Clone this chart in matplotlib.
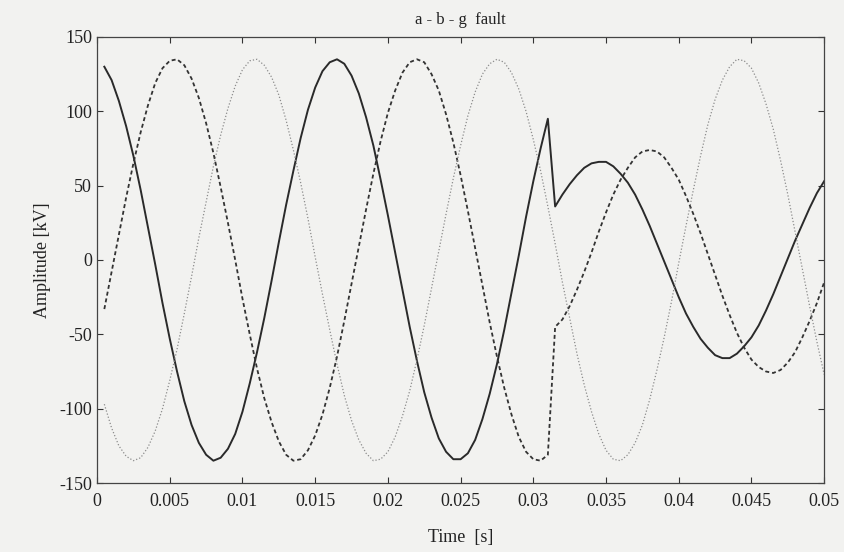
import numpy as np
import matplotlib
matplotlib.use("Agg")
import matplotlib.pyplot as plt

# samples every 0.5 ms, first sample at t = 0.5 ms
dt = 0.0005

# phase a (solid): fault at ~31 ms, amplitude drops
va = [130, 121, 107, 90, 70, 47, 22, -3, -29, -53,
      -75, -95, -111, -123, -131, -135, -133, -127, -117, -102,
      -83, -62, -39, -14, 12, 37, 60, 82, 101, 116,
      127, 133, 135, 132, 124, 112, 96, 77, 54, 30,
      5, -20, -45, -68, -89, -106, -120, -129, -134, -134,
      -130, -121, -107, -90, -70, -47, -22, 3, 29, 53,
      75, 95,
      36, 44, 51, 57, 62, 65, 66, 66, 63, 58,
      52, 44, 34, 23, 11, -1, -13, -25, -36, -45,
      -53, -59, -64, -66, -66, -63, -58, -52, -44, -34,
      -23, -11, 1, 13, 24, 35, 45, 53]

# phase b (dashed)
vb = [-33, -8, 17, 42, 65, 86, 104, 119, 129, 134,
      135, 131, 122, 109, 92, 72, 49, 25, 0, -26,
      -50, -73, -93, -109, -122, -131, -135, -134, -128, -118,
      -104, -86, -65, -41, -16, 9, 34, 58, 80, 99,
      114, 126, 133, 135, 133, 125, 114, 98, 79, 57,
      33, 8, -17, -42, -65, -86, -104, -119, -129, -134,
      -135, -131,
      -45, -40, -31, -20, -8, 5, 19, 32, 44, 54,
      62, 69, 73, 74, 73, 69, 62, 54, 43, 31,
      18, 4, -10, -24, -37, -49, -59, -67, -72, -75,
      -76, -74, -69, -62, -52, -41, -29, -15]

# phase c (dotted), healthy phase
vc = [-97, -113, -125, -132, -135, -133, -126, -115, -100, -81,
      -60, -36, -11, 15, 39, 63, 84, 102, 117, 128,
      134, 135, 131, 123, 111, 94, 74, 52, 28, 2,
      -23, -47, -70, -91, -108, -121, -130, -135, -134, -129,
      -119, -105, -88, -67, -44, -19, 6, 31, 55, 77,
      97, 113, 125, 132, 135, 133, 126, 115, 100, 81,
      60, 36, 11, -15, -39, -63, -84, -102, -117, -128,
      -134, -135, -131, -123, -111, -94, -74, -52, -28, -2,
      23, 47, 70, 91, 108, 121, 130, 135, 134, 129,
      119, 105, 88, 67, 44, 19, -6, -31, -55, -77]

xticks = [0, 0.005, 0.01, 0.015, 0.02, 0.025, 0.03, 0.035, 0.04, 0.045, 0.05]
xticklabels = ['0', '0.005', '0.01', '0.015', '0.02', '0.025', '0.03',
               '0.035', '0.04', '0.045', '0.05']
yticks = [-150, -100, -50, 0, 50, 100, 150]

plt.rcParams['font.family'] = ['Liberation Serif', 'DejaVu Serif']
plt.rcParams['font.size'] = 13
plt.rcParams['axes.unicode_minus'] = False

t = dt * np.arange(1, len(va) + 1)

bg = '#f2f2f0'
fig = plt.figure(figsize=(8.44, 5.52), dpi=100, facecolor=bg)
ax = fig.add_axes([0.115, 0.125, 0.8615, 0.808])
ax.set_facecolor(bg)

ax.plot(t, va, color='#2a2a2a', lw=1.4, linestyle='-')
ax.plot(t, vb, color='#333333', lw=1.3, linestyle=(0, (2.2, 1.6)))
ax.plot(t, vc, color='#8c8c8c', lw=0.9, linestyle=(0, (1, 1.6)))

ax.set_xlim(0, 0.05)
ax.set_ylim(-150, 150)
ax.set_xticks(xticks)
ax.set_xticklabels(xticklabels)
ax.set_yticks(yticks)
ax.tick_params(direction='in', top=True, right=True, length=4,
               width=0.8, colors='#333333', labelcolor='#222222')
ax.tick_params(axis='x', pad=7)
for s in ax.spines.values():
    s.set_color('#444444')
    s.set_linewidth(0.9)

ax.set_title('a - b - g  fault', fontsize=12, pad=9, color='#222222')
ax.set_xlabel('Time  [s]', labelpad=14, color='#222222')
ax.set_ylabel('Amplitude [kV]', labelpad=6, color='#222222')

fig.savefig('out.png', dpi=100, facecolor=bg)
